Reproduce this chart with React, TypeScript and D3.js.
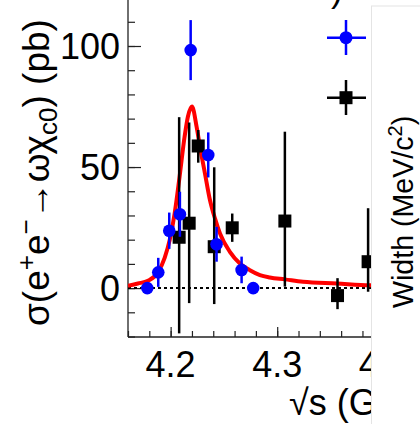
import React, { useEffect, useRef } from 'react';
import * as d3 from 'd3';

// blue circles (vertical stat. errors only)
const blueX = [4.1781, 4.1884, 4.1987, 4.2087, 4.2188, 4.2353, 4.2431, 4.2666, 4.2775];
const blueY = [0, 6.5, 23.7, 30.5, 98.3, 55, 18.1, 7.5, 0];
const blueErr = [1.5, 6, 7.5, 9.3, 12.4, 9.3, 7.2, 5.5, 1.5];

// black squares (asymmetric errors)
const blackX = [4.208, 4.2174, 4.2259, 4.2409, 4.2578, 4.3072, 4.3566, 4.3853];
const blackY = [21, 26.8, 58.7, 17.1, 24.9, 27.7, -3.1, 10.9];
const blackUp = [49.6, 41.6, 6.6, 32.8, 5.9, 36.9, 7.2, 22.1];
const blackDown = [39.7, 33, 6.9, 23.7, 5.8, 27.1, 5.6, 12.4];

// fit curve
const fitX = [4.16, 4.1693, 4.1787, 4.1881, 4.1944, 4.1991, 4.2038, 4.2084, 4.2131, 4.2162, 4.22, 4.2244, 4.2275,
  4.2322, 4.2369, 4.2416, 4.2463, 4.2556, 4.265, 4.2744, 4.2838, 4.2931, 4.3072, 4.3241, 4.3559, 4.3869, 4.434];
const fitY = [1.0, 1.9, 3.0, 6.5, 12.5, 19.8, 30.9, 46, 62.5, 70.8, 75, 66.6, 58.4,
  47.4, 36.4, 28.8, 22.6, 15.0, 10.2, 7.4, 5.4, 4.4, 3.6, 2.6, 1.9, 1.2, 1.0];

const xMajor = [4.2, 4.3, 4.4];
const yMajor = [0, 50, 100];

const FONT = '"Liberation Sans", Arial, sans-serif';

function CrossSectionPlot() {
  const svgRef = useRef<SVGSVGElement>(null);

  useEffect(() => {
    const width = 420;
    const height = 424;
    const left = 128;
    const bottom = 337;

    const svg = d3.select(svgRef.current)
      .attr('width', width)
      .attr('height', height);
    svg.selectAll('*').remove();

    const x = d3.scaleLinear().domain([4.16, 4.434]).range([left, width]);
    const y = d3.scaleLinear().domain([-20.2, 119]).range([bottom, 0]);

    svg.append('defs').append('clipPath').attr('id', 'plotClip')
      .append('rect').attr('x', left).attr('y', 0).attr('width', width - left).attr('height', bottom);

    // axes: minor ticks first, then major with labels
    const xMinor = d3.range(4.16, 4.4301, 0.02);
    const xAx = svg.append('g').attr('transform', `translate(0,${bottom})`);
    xAx.call(d3.axisTop(x).tickValues(xMinor).tickSize(6).tickFormat(() => '').tickSizeOuter(0));
    xAx.append('g').call(d3.axisTop(x).tickValues(xMajor).tickSize(10).tickFormat(() => '').tickSizeOuter(0));
    xAx.selectAll('path.domain').remove();
    xAx.selectAll('line').attr('stroke', '#222').attr('stroke-width', 1.2);

    const yMinor = d3.range(-20, 111, 10);
    const yAx = svg.append('g').attr('transform', `translate(${left},0)`);
    yAx.call(d3.axisRight(y).tickValues(yMinor).tickSize(7).tickFormat(() => '').tickSizeOuter(0));
    yAx.append('g').call(d3.axisRight(y).tickValues(yMajor).tickSize(13).tickFormat(() => '').tickSizeOuter(0));
    yAx.selectAll('path.domain').remove();
    yAx.selectAll('line').attr('stroke', '#222').attr('stroke-width', 1.2);

    svg.append('line')
      .attr('x1', left).attr('x2', left).attr('y1', 0).attr('y2', bottom)
      .attr('stroke', '#222').attr('stroke-width', 1.3);
    svg.append('line')
      .attr('x1', left).attr('x2', width).attr('y1', bottom).attr('y2', bottom)
      .attr('stroke', '#222').attr('stroke-width', 1.3);

    // tick labels
    svg.selectAll('text.xt').data(xMajor).enter().append('text')
      .attr('class', 'xt')
      .attr('x', d => x(d)).attr('y', 377)
      .attr('text-anchor', 'middle')
      .attr('font-family', FONT).attr('font-size', 36)
      .text(d => d.toFixed(1));

    svg.selectAll('text.yt').data(yMajor).enter().append('text')
      .attr('class', 'yt')
      .attr('x', 120).attr('y', d => y(d)).attr('dy', '0.36em')
      .attr('text-anchor', 'end')
      .attr('font-family', FONT).attr('font-size', 36)
      .text(d => String(d));

    const plot = svg.append('g').attr('clip-path', 'url(#plotClip)');

    // zero line
    plot.append('line')
      .attr('x1', left).attr('x2', width).attr('y1', y(0)).attr('y2', y(0))
      .attr('stroke', '#000').attr('stroke-width', 2).attr('stroke-dasharray', '3,3');

    // fit
    const fit = fitX.map((v, i) => [v, fitY[i]] as [number, number]);
    plot.append('path')
      .datum(fit)
      .attr('fill', 'none')
      .attr('stroke', '#ff0000')
      .attr('stroke-width', 4)
      .attr('d', d3.line<[number, number]>().x(d => x(d[0])).y(d => y(d[1])).curve(d3.curveMonotoneX));

    // black squares
    const blk = blackX.map((v, i) => ({ x: v, y: blackY[i], up: blackUp[i], dn: blackDown[i] }));
    plot.selectAll('line.be').data(blk).enter().append('line')
      .attr('x1', d => x(d.x)).attr('x2', d => x(d.x))
      .attr('y1', d => y(d.y + d.up)).attr('y2', d => y(d.y - d.dn))
      .attr('stroke', '#000').attr('stroke-width', 2.5);
    plot.selectAll('rect.bs').data(blk).enter().append('rect')
      .attr('x', d => x(d.x) - 6.5).attr('y', d => y(d.y) - 6.5)
      .attr('width', 13).attr('height', 13)
      .attr('fill', '#000');

    // blue circles
    const blu = blueX.map((v, i) => ({ x: v, y: blueY[i], e: blueErr[i] }));
    plot.selectAll('line.ue').data(blu).enter().append('line')
      .attr('x1', d => x(d.x)).attr('x2', d => x(d.x))
      .attr('y1', d => y(d.y + d.e)).attr('y2', d => y(d.y - d.e))
      .attr('stroke', '#0000ff').attr('stroke-width', 2.5);
    plot.selectAll('circle.uc').data(blu).enter().append('circle')
      .attr('cx', d => x(d.x)).attr('cy', d => y(d.y))
      .attr('r', 6.3)
      .attr('fill', '#0000ff');

    // legend markers
    const leg = svg.append('g');
    leg.append('line').attr('x1', 327).attr('x2', 366).attr('y1', 37.7).attr('y2', 37.7)
      .attr('stroke', '#0000ff').attr('stroke-width', 2.5);
    leg.append('line').attr('x1', 346).attr('x2', 346).attr('y1', 20).attr('y2', 55)
      .attr('stroke', '#0000ff').attr('stroke-width', 2.5);
    leg.append('circle').attr('cx', 346).attr('cy', 37.7).attr('r', 6.5).attr('fill', '#0000ff');
    leg.append('line').attr('x1', 327).attr('x2', 366).attr('y1', 97.7).attr('y2', 97.7)
      .attr('stroke', '#000').attr('stroke-width', 2.5);
    leg.append('line').attr('x1', 346).attr('x2', 346).attr('y1', 80).attr('y2', 115)
      .attr('stroke', '#000').attr('stroke-width', 2.5);
    leg.append('rect').attr('x', 339.5).attr('y', 91.2).attr('width', 13).attr('height', 13).attr('fill', '#000');

    // stray bit of a title above
    svg.append('text')
      .attr('x', 331).attr('y', 1)
      .attr('font-family', FONT).attr('font-size', 36)
      .text(')');

    // y title
    const yl = svg.append('text')
      .attr('transform', 'translate(49,326) rotate(-90)')
      .attr('font-family', FONT).attr('font-size', 37);
    yl.append('tspan').text('σ(e');
    yl.append('tspan').attr('dy', -14).attr('font-size', 26).text('+');
    yl.append('tspan').attr('dy', 14).text('e');
    yl.append('tspan').attr('dy', -14).attr('font-size', 26).text('−');
    yl.append('tspan').attr('dy', 14).text('→ωχ');
    yl.append('tspan').attr('dy', 8).attr('font-size', 26).text('c0');
    yl.append('tspan').attr('dy', -8).text(') (pb)');

    // x title
    svg.append('text')
      .attr('x', 289).attr('y', 415)
      .attr('font-family', FONT).attr('font-size', 36)
      .text('√s (GeV)');

    // neighbouring panel covering the right edge
    svg.append('rect')
      .attr('x', 371.5).attr('y', 6).attr('width', 60).attr('height', 430)
      .attr('fill', '#fff').attr('stroke', '#e4e4e4').attr('stroke-width', 1);
    const wl = svg.append('text')
      .attr('transform', 'translate(413,308) rotate(-90)')
      .attr('font-family', FONT).attr('font-size', 28.6);
    wl.append('tspan').text('Width  (MeV/c');
    wl.append('tspan').attr('dy', -11).attr('font-size', 20).text('2');
    wl.append('tspan').attr('dy', 11).text(')');
  }, []);

  return <svg ref={svgRef} style={{ position: 'absolute', left: 0, top: 0, background: '#fff' }}></svg>;
}

export default function App() {
  return <CrossSectionPlot />;
}
